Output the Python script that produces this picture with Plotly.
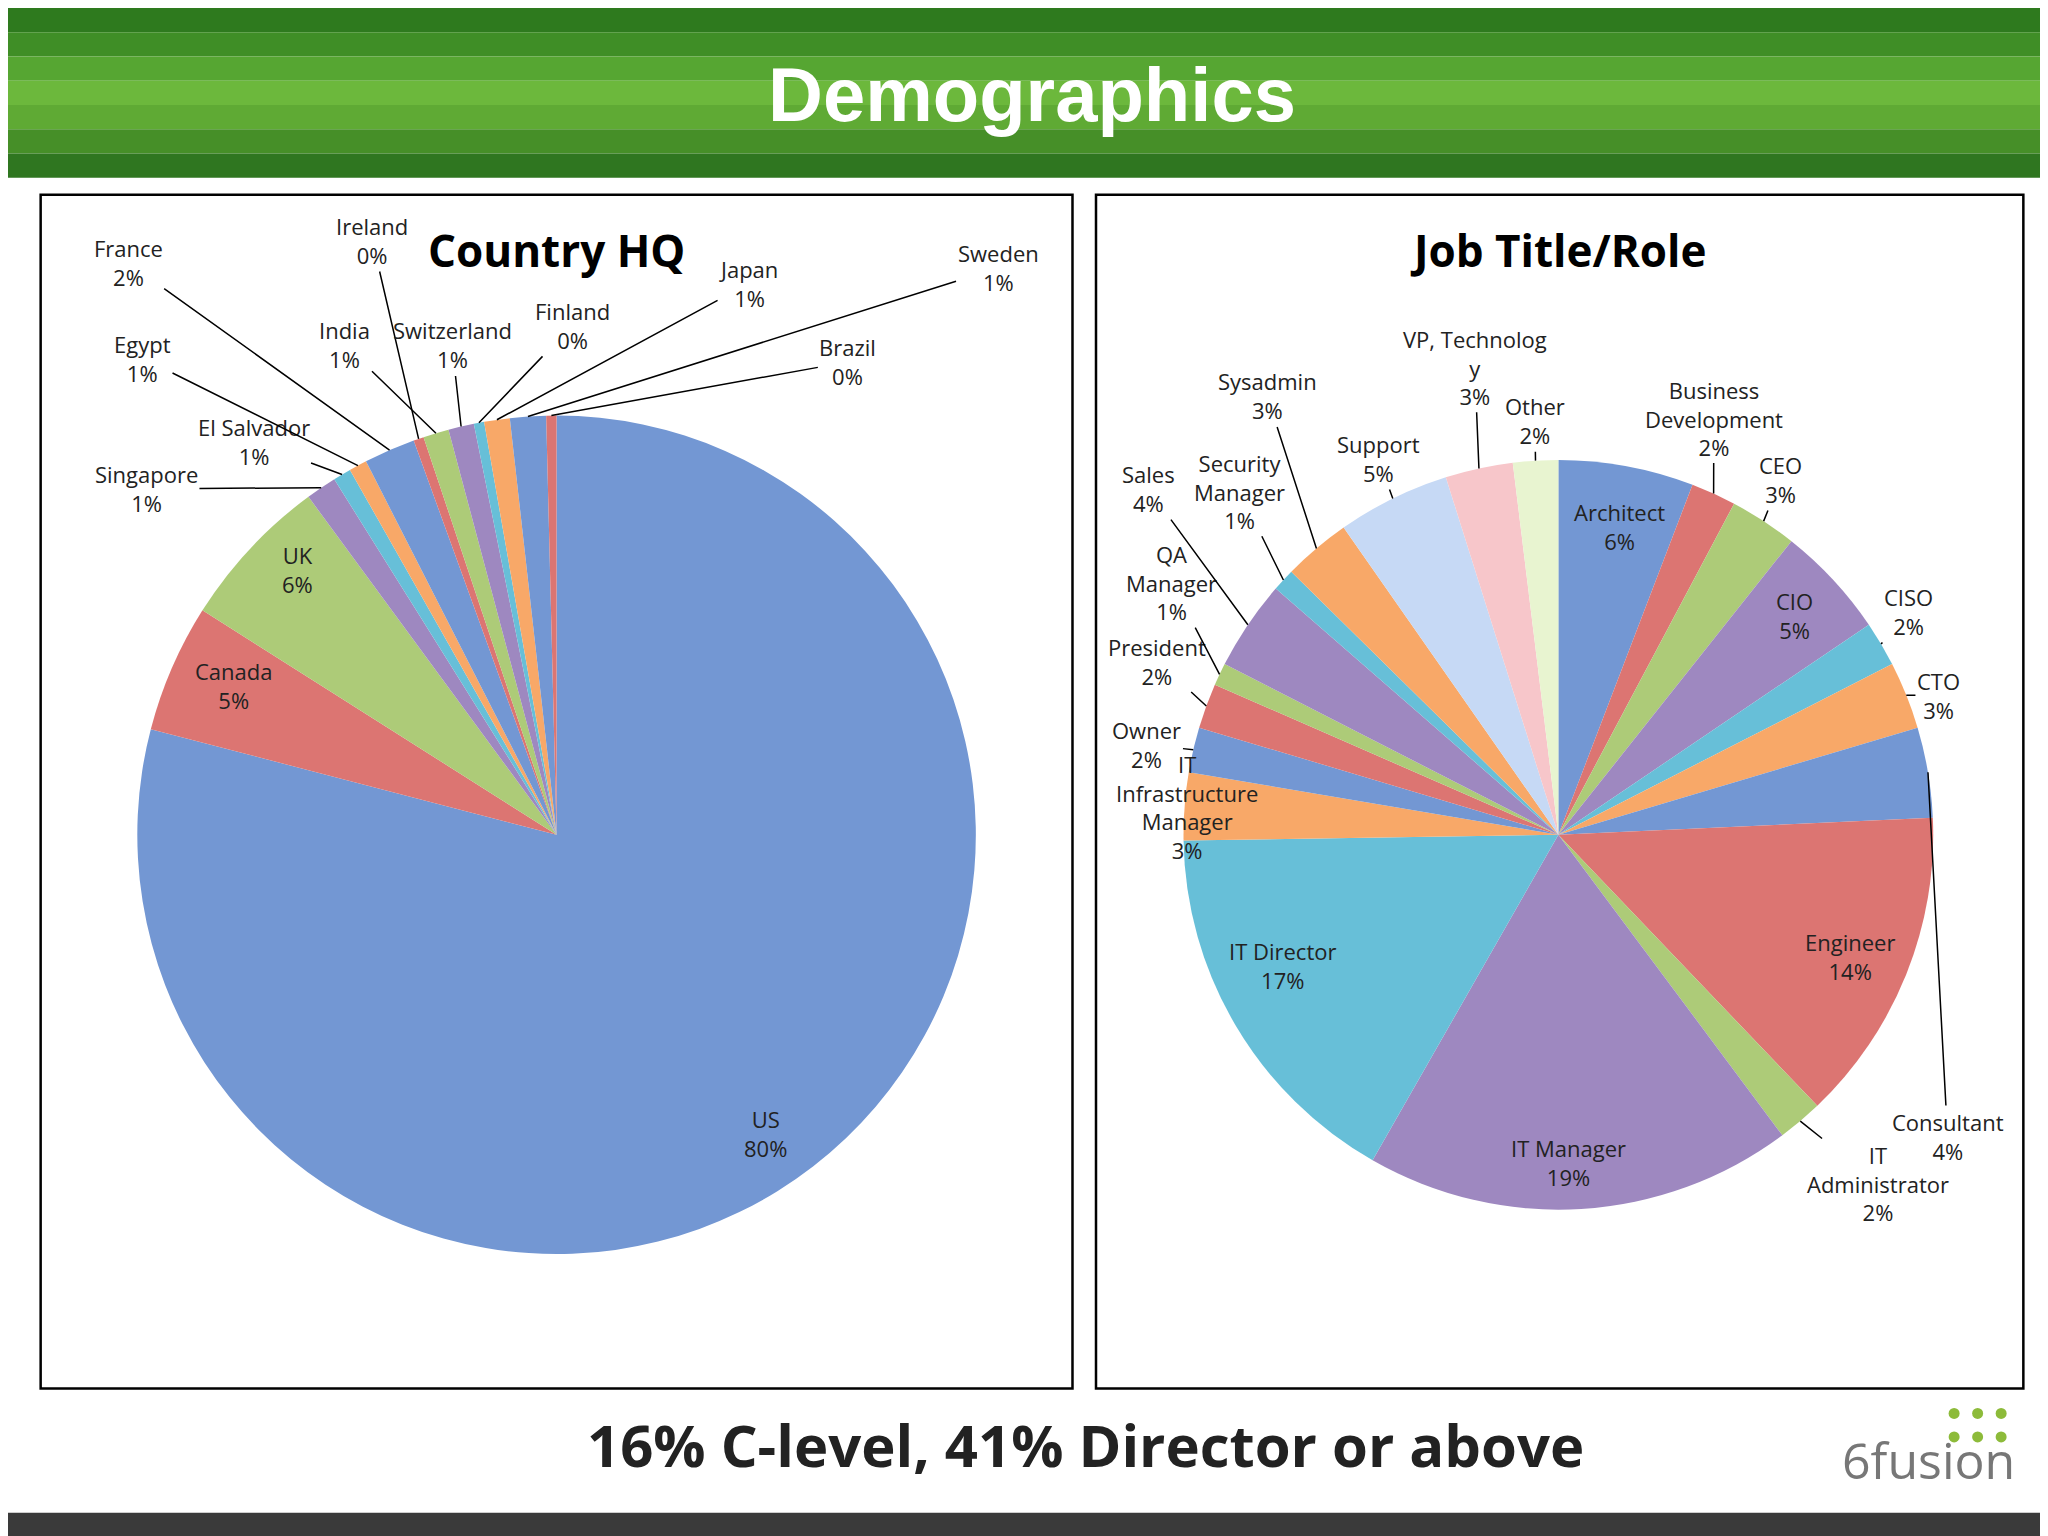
import math
import plotly.graph_objects as go

W, H = 1568, 1176  # design units, scaled to the 2048x1536 page

countries = ["US", "Canada", "UK", "Singapore", "El Salvador", "Egypt", "France",
             "Ireland", "India", "Switzerland", "Finland", "Japan", "Sweden", "Brazil"]
country_vals = [80, 5, 6, 1.2, 0.7, 0.7, 2, 0.4, 1, 1, 0.4, 1, 1.4, 0.4]
country_pct = ["80%", "5%", "6%", "1%", "1%", "1%", "2%", "0%", "1%", "1%", "0%", "1%", "1%", "0%"]

jobs = ["Architect", "Business<br>Development", "CEO", "CIO", "CISO", "CTO", "Consultant",
        "Engineer", "IT<br>Administrator", "IT Manager", "IT Director",
        "IT<br>Infrastructure<br>Manager", "Owner", "President", "QA<br>Manager", "Sales",
        "Security<br>Manager", "Sysadmin", "Support", "VP, Technolog<br>y", "Other"]
job_vals = [6, 2, 3, 5, 2, 3, 4, 14, 2, 19, 17, 3, 2, 2, 1, 4, 1, 3, 5, 3, 2]
job_pct = ["6%", "2%", "3%", "5%", "2%", "3%", "4%", "14%", "2%", "19%", "17%", "3%",
           "2%", "2%", "1%", "4%", "1%", "3%", "5%", "3%", "2%"]

base = ["#7397D3", "#DC7572", "#ADCB78", "#9E88C0", "#67BFD8", "#F8A868"]
light = ["#C6D9F5", "#F7C6CA", "#E8F4D0", "#D5C8E8", "#B6E6F2", "#FCD5B4"]


def colors(n):
    return [base[i % 6] if i < 18 else light[i % 6] for i in range(n)]


# label anchor positions (design units); False -> inside label, no leader
country_pos = [(580, 862, False), (173, 519, False), (222, 430, False), (106, 368, True),
               (188, 332, True), (103, 268, True), (92, 195, True), (279, 178, True),
               (258, 258, True), (340, 258, True), (432, 243, True), (567, 211, True),
               (758, 199, True), (643, 271, True)]
job_pos = [(1234, 397, False), (1306, 314, True), (1357, 361, True), (1368, 465, False),
           (1455, 462, True), (1478, 526, True), (1485, 864, True), (1410, 726, False),
           (1432, 900, True), (1195, 884, False), (976, 733, False), (903, 612, True),
           (872, 564, True), (880, 500, True), (891, 440, True), (873, 368, True),
           (943, 370, True), (964, 297, True), (1049, 345, True), (1123, 275, True),
           (1169, 316, True)]

fig = go.Figure()
FONT = "Open Sans"
ann = []
shapes = []


def add_pie(labels, vals, cx, cy, r, pos, pct):
    fig.add_trace(go.Pie(
        values=vals, labels=labels, sort=False, direction="clockwise", rotation=0,
        marker=dict(colors=colors(len(vals)), line=dict(width=0)),
        textinfo="none", hoverinfo="label+percent", showlegend=False,
        domain=dict(x=[(cx - r) / W, (cx + r) / W], y=[1 - (cy + r) / H, 1 - (cy - r) / H])))
    total = sum(vals)
    cum = 0
    for lab, v, (lx, ly, lead), p in zip(labels, vals, pos, pct):
        th = 2 * math.pi * (cum + v / 2) / total
        cum += v
        px, py = cx + r * math.sin(th), cy - r * math.cos(th)
        a = dict(text=f"{lab}<br>{p}", font=dict(family=FONT, size=22, color="#222"),
                 xref="x", yref="y", align="center")
        if lead:
            a.update(x=px, y=py, ax=lx, ay=ly, axref="x", ayref="y", showarrow=True,
                     arrowhead=0, arrowwidth=1.5, arrowcolor="black", standoff=0)
        else:
            a.update(x=lx, y=ly, showarrow=False)
        ann.append(a)


add_pie(countries, country_vals, 420, 633, 321, country_pos, country_pct)
add_pie(jobs, job_vals, 1187, 633, 287, job_pos, job_pct)

# header gradient bands
greens = ["#2E7A1E", "#3F8E26", "#56A632", "#6CB83C", "#5FAA34", "#468F28", "#2F7620"]
for i, g in enumerate(greens):
    shapes.append(dict(type="rect", xref="x", yref="y", x0=0, x1=W, y0=i * 130 / 7,
                       y1=(i + 1) * 130 / 7, fillcolor=g, line=dict(width=0), layer="below"))
shapes.append(dict(type="rect", xref="x", yref="y", x0=0, x1=W, y0=1152, y1=H,
                   fillcolor="#3A3A3A", line=dict(width=0)))
for x0, x1 in [(25, 815), (833, 1543)]:
    shapes.append(dict(type="rect", xref="x", yref="y", x0=x0, x1=x1, y0=143, y1=1057,
                       line=dict(color="black", width=2.5), layer="below"))

ann += [
    dict(text="<b>Demographics</b>", x=784, y=66, xref="x", yref="y", showarrow=False,
         font=dict(family="Liberation Sans", size=76, color="white")),
    dict(text="<b>Country HQ</b>", x=420, y=185, xref="x", yref="y", showarrow=False,
         font=dict(family=FONT, size=44, color="black")),
    dict(text="<b>Job Title/Role</b>", x=1187, y=185, xref="x", yref="y", showarrow=False,
         font=dict(family=FONT, size=44, color="black")),
    dict(text="<b>16% C-level, 41% Director or above</b>", x=825, y=1100, xref="x", yref="y",
         showarrow=False, font=dict(family=FONT, size=58, color="#222")),
    dict(text="6fusion", x=1470, y=1112, xref="x", yref="y", showarrow=False,
         font=dict(family=FONT, size=50, color="#777")),
]
fig.add_trace(go.Scatter(x=[1490, 1508, 1526, 1490, 1508, 1526], y=[1076, 1076, 1076, 1094, 1094, 1094],
                         mode="markers", marker=dict(color="#8DBB3A", size=11),
                         showlegend=False, hoverinfo="skip"))

fig.update_layout(
    width=2048, height=1536, margin=dict(l=0, r=0, t=0, b=0),
    paper_bgcolor="white", plot_bgcolor="rgba(0,0,0,0)",
    xaxis=dict(range=[0, W], visible=False, domain=[0, 1], fixedrange=True),
    yaxis=dict(range=[H, 0], visible=False, domain=[0, 1], fixedrange=True),
    annotations=ann, shapes=shapes)
fig.write_html("out.html")
